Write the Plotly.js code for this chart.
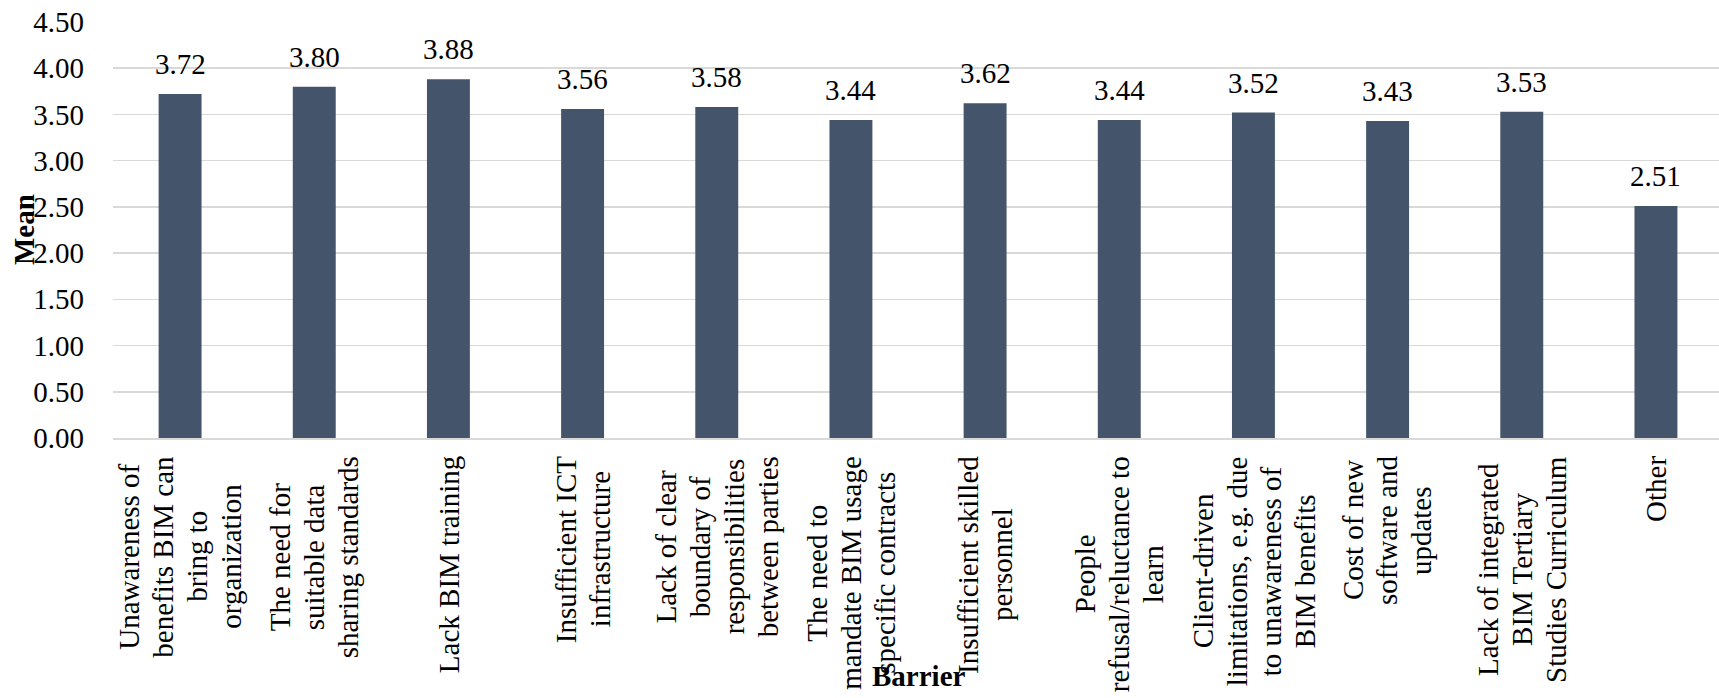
<!DOCTYPE html>
<html>
<head>
<meta charset="utf-8">
<script src="https://cdn.plot.ly/plotly-3.0.1.min.js"></script>
<style>
  html, body { margin: 0; padding: 0; background: #ffffff; }
  #chart { width: 1719px; height: 698px; }
</style>
</head>
<body>
<div id="chart"></div>
<script>
// Barrier categories (lines of each wrapped label separated by "|")
const barriers = [
  "Unawareness of|benefits BIM can|bring to|organization",
  "The need for|suitable data|sharing standards",
  "Lack BIM training",
  "Insufficient ICT|infrastructure",
  "Lack of clear|boundary of|responsibilities|between parties",
  "The need to|mandate BIM usage|specific contracts",
  "Insufficient skilled|personnel",
  "People|refusal/reluctance to|learn",
  "Client-driven|limitations, e.g. due|to unawareness of|BIM benefits",
  "Cost of new|software and|updates",
  "Lack of integrated|BIM Tertiary|Studies Curriculum",
  "Other"
];

// Mean score per barrier
const meanScores = [3.72, 3.80, 3.88, 3.56, 3.58, 3.44, 3.62, 3.44, 3.52, 3.43, 3.53, 2.51];

// Value axis ticks
const yTickValues = [0, 0.5, 1, 1.5, 2, 2.5, 3, 3.5, 4, 4.5];
const yTickLabels = ["0.00", "0.50", "1.00", "1.50", "2.00", "2.50", "3.00", "3.50", "4.00", "4.50"];

const FONT = "Liberation Serif, Times New Roman, serif";
const TEXT_SIZE = 29;
const LINE_GAP = 34;      // distance between wrapped label lines
const LABEL_OFFSET = 18;  // gap between axis line and category labels

function drawChart() {
  const canvas = document.createElement('canvas');
  const ctx = canvas.getContext('2d');
  ctx.font = TEXT_SIZE + "px " + FONT;

  const xIdx = barriers.map((_, i) => i);

  const annotations = [];

  // value labels above bars
  meanScores.forEach((v, i) => {
    annotations.push({
      x: i, y: v, xref: 'x', yref: 'y',
      text: v.toFixed(2),
      showarrow: false,
      xanchor: 'center', yanchor: 'bottom',
      yshift: 12,
      font: { family: FONT, size: TEXT_SIZE, color: '#000000' }
    });
  });

  // rotated, centred, tightly spaced category labels
  barriers.forEach((label, i) => {
    const lines = label.split('|');
    const longest = Math.max(...lines.map(s => ctx.measureText(s).width));
    const centreShift = -(LABEL_OFFSET + longest / 2);
    lines.forEach((line, j) => {
      annotations.push({
        x: i, y: 0, xref: 'x', yref: 'y',
        text: line,
        showarrow: false,
        textangle: -90,
        xanchor: 'center', yanchor: 'middle',
        xshift: (j - (lines.length - 1) / 2) * LINE_GAP,
        yshift: centreShift,
        font: { family: FONT, size: TEXT_SIZE, color: '#000000' }
      });
    });
  });

  // axis titles
  annotations.push({
    x: 0, y: 0.5, xref: 'paper', yref: 'paper',
    text: '<b>Mean</b>', showarrow: false, textangle: -90,
    xanchor: 'center', yanchor: 'middle', xshift: -89,
    font: { family: FONT, size: TEXT_SIZE, color: '#000000' }
  });
  annotations.push({
    x: 0.5, y: 0, xref: 'paper', yref: 'paper',
    text: '<b>Barrier</b>', showarrow: false,
    xanchor: 'center', yanchor: 'middle', xshift: 3, yshift: -238,
    font: { family: FONT, size: TEXT_SIZE, color: '#000000' }
  });

  const trace = {
    type: 'bar',
    x: xIdx,
    y: meanScores,
    width: 0.32,
    marker: { color: '#44546a' },
    hoverinfo: 'y'
  };

  const layout = {
    width: 1719,
    height: 698,
    margin: { l: 113, r: 0, t: 22, b: 260 },
    paper_bgcolor: '#ffffff',
    plot_bgcolor: '#ffffff',
    showlegend: false,
    font: { family: FONT, size: TEXT_SIZE, color: '#000000' },
    xaxis: {
      range: [-0.5, 11.47],
      showticklabels: false,
      showgrid: false,
      zeroline: false,
      showline: true,
      linecolor: '#d9d9d9',
      linewidth: 1.5,
      ticks: ''
    },
    yaxis: {
      range: [0, 4.5],
      tickvals: yTickValues,
      ticktext: yTickLabels,
      showgrid: true,
      gridcolor: '#d9d9d9',
      gridwidth: 1.5,
      zeroline: false,
      showline: false,
      ticks: '',
      ticklabelstandoff: 28,
      tickfont: { family: FONT, size: TEXT_SIZE, color: '#000000' }
    },
    annotations: annotations
  };

  Plotly.newPlot('chart', [trace], layout, { displayModeBar: false, staticPlot: true });
}

if (document.fonts && document.fonts.ready) {
  document.fonts.ready.then(drawChart);
} else {
  drawChart();
}
</script>
</body>
</html>
